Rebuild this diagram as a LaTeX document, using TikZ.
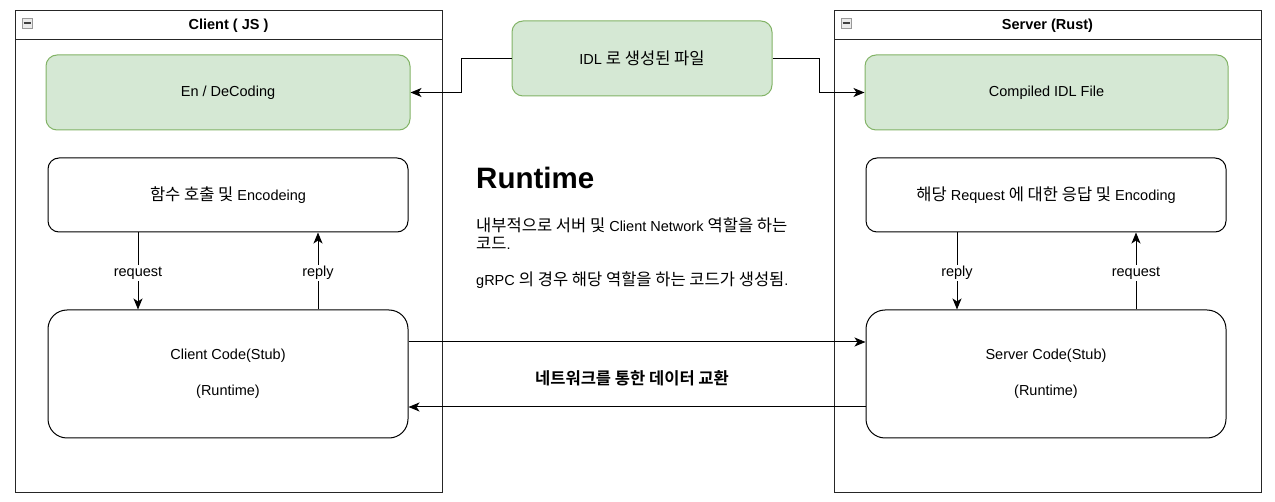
\documentclass[tikz,border=0pt]{standalone}
\usepackage{fontspec}
\setmainfont{Liberation Sans}
\newfontfamily\krfont{Noto Sans CJK KR}[Scale=1.14,BoldFont={Noto Sans CJK KR Bold}]
\newcommand{\kr}[1]{{\krfont #1}}
\usetikzlibrary{arrows.meta}
\definecolor{gfill}{HTML}{D5E8D4}
\definecolor{gline}{HTML}{82B366}
\tikzset{
  txt/.style={font=\fontsize{14.5}{18}\selectfont, inner sep=0pt},
  container/.style={draw=black!85, line width=1pt, minimum width=427pt, minimum height=481pt, inner sep=0pt},
  greenbox/.style={draw=gline, fill=gfill, line width=1pt, rounded corners=11pt, minimum height=75pt, align=center, font=\fontsize{14.5}{18}\selectfont},
  whitebox/.style={draw=black, line width=1pt, rounded corners=11pt, minimum width=360pt, minimum height=74pt, align=center, font=\fontsize{14.5}{18}\selectfont},
  bigbox/.style={draw=black, line width=1pt, rounded corners=19pt, minimum width=360pt, minimum height=128pt, align=center, font=\fontsize{14.5}{18}\selectfont},
  conn/.style={line width=1pt, -{Stealth[length=11pt,width=9pt,inset=3pt]}},
  lbl/.style={fill=white, inner sep=1.5pt, yshift=-2pt, font=\fontsize{14.5}{18}\selectfont},
  minus/.style={draw=black!40, fill=black!8, minimum width=10pt, minimum height=10pt, inner sep=0pt},
}
\begin{document}
\begin{tikzpicture}[x=1pt, y=-1pt]
\useasboundingbox (0,0) rectangle (1275,502);

% containers
\node[container] (client) at (228.5,251.5) {};
\draw[black!85, line width=1pt] (15,40) -- (442,40);
\node[font=\bfseries\fontsize{14.5}{18}\selectfont] (clientT) at (228.5,26) {Client ( JS )};
\node[minus] (clientM) at (27,23) {};
\draw[black!75, line width=1.2pt] (23.5,23) -- (30.5,23);

\node[container] (server) at (1047.5,251.5) {};
\draw[black!85, line width=1pt] (834,40) -- (1261,40);
\node[font=\bfseries\fontsize{14.5}{18}\selectfont] (serverT) at (1047.5,26) {Server (Rust)};
\node[minus] (serverM) at (846,23) {};
\draw[black!75, line width=1.2pt] (842.5,23) -- (849.5,23);

% green boxes
\node[greenbox, minimum width=364pt] (endec) at (228,92.5) {En / DeCoding};
\node[greenbox, minimum width=260pt] (idl) at (642,58.5) {IDL \kr{로 생성된 파일}};
\node[greenbox, minimum width=363pt] (comp) at (1046.5,92.5) {Compiled IDL File};

% white boxes
\node[whitebox] (call) at (228,195) {\kr{함수 호출 및} Encodeing};
\node[bigbox] (cc) at (228,374) {Client Code(Stub)\\[18pt](Runtime)};
\node[whitebox] (resp) at (1046,195) {\kr{해당} Request \kr{에 대한 응답 및} Encoding};
\node[bigbox] (sc) at (1046,374) {Server Code(Stub)\\[18pt](Runtime)};

% helper coordinates
\coordinate (bendL) at (461,0);
\coordinate (bendR) at (819,0);
\coordinate (cx1) at (138,0);
\coordinate (cx2) at (318,0);
\coordinate (sx1) at (957,0);
\coordinate (sx2) at (1136,0);
\coordinate (ny1) at (0,342);
\coordinate (ny2) at (0,407);

% IDL arrows
\draw[conn] (idl.west) -- (idl.west -| bendL) |- (endec.east);
\draw[conn] (idl.east) -- (idl.east -| bendR) |- (comp.west);

% client request/reply
\draw[conn] (call.south -| cx1) -- node[lbl] (reqL) {request} (cc.north -| cx1);
\draw[conn] (cc.north -| cx2) -- node[lbl] (repL) {reply} (call.south -| cx2);

% server reply/request
\draw[conn] (resp.south -| sx1) -- node[lbl] (repS) {reply} (sc.north -| sx1);
\draw[conn] (sc.north -| sx2) -- node[lbl] (reqS) {request} (resp.south -| sx2);

% network arrows
\draw[conn] (cc.east |- ny1) -- (sc.west |- ny1);
\draw[conn] (sc.west |- ny2) -- (cc.east |- ny2);
\node[font=\bfseries\fontsize{14.5}{18}\selectfont, inner sep=0pt] (net) at (632,378) {\kr{네트워크를 통한 데이터 교환}};

% Runtime text
\node[anchor=base west, inner sep=0pt, font=\bfseries\fontsize{29.5}{34}\selectfont] (rt) at (476,189) {Runtime};
\node[txt, anchor=base west] (rt1) at (476,232) {\kr{내부적으로 서버 및} Client Network \kr{역할을 하는}};
\node[txt, anchor=base west] (rt2) at (476,250) {\kr{코드}.};
\node[txt, anchor=base west] (rt3) at (476,286) {gRPC \kr{의 경우 해당 역할을 하는 코드가 생성됨}.};
\end{tikzpicture}
\end{document}
